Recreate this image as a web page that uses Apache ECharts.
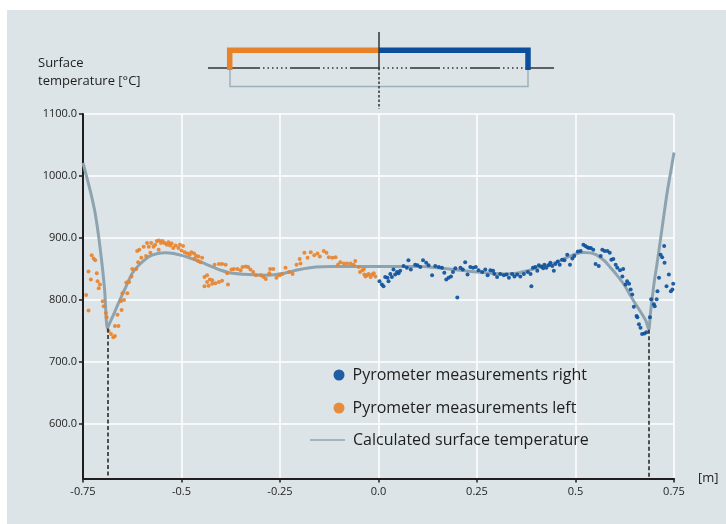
<!DOCTYPE html>
<html>
<head>
<meta charset="utf-8">
<script src="https://cdn.jsdelivr.net/npm/echarts@6/dist/echarts.min.js"></script>
<style>
html,body{margin:0;padding:0;background:#ffffff;}
#chart{width:726px;height:524px;}
</style>
</head>
<body>
<div id="chart"></div>
<script>
// ---- data ----
const yTickValues = [600, 700, 800, 900, 1000, 1100];
const yMin = 512, yMax = 1100;
const xMin = -0.75, xMax = 0.75, xStep = 0.25;

const calcCurve = [
  [-0.75,1021],[-0.74,997],[-0.73,972],[-0.72,943],[-0.71,901],[-0.70,848],[-0.695,815],[-0.688,754],
  [-0.68,766],[-0.67,780],[-0.66,795],[-0.65,809],[-0.642,820],[-0.635,830],[-0.625,843],[-0.61,855],
  [-0.60,861],[-0.583,870],[-0.56,875],[-0.54,876],[-0.52,875],[-0.50,872],[-0.48,868],[-0.45,861],
  [-0.42,853],[-0.40,848],[-0.37,843],[-0.33,841],[-0.28,840],[-0.24,843],[-0.20,849],[-0.16,853],
  [-0.12,854],[-0.06,854],[0,854],[0.05,854],[0.106,854],[0.15,852],[0.19,849],[0.25,845],
  [0.318,842],[0.35,843],[0.377,847],[0.41,853],[0.453,861],[0.48,869],[0.504,875],[0.52,876.5],
  [0.538,876],[0.552,873],[0.564,868],[0.577,861],[0.589,852],[0.605,840],[0.623,825],[0.636,811],
  [0.648,798],[0.66,786],[0.669,777],[0.679,766],[0.686,752],[0.69,778],[0.695,804],[0.70,830],
  [0.708,863],[0.716,899],[0.725,940],[0.733,975],[0.742,1008],[0.75,1038]
];

const dropLines = [[-0.688, 754], [0.686, 752]];

const orangeLeft = [
  [-0.742,808],[-0.736,783],[-0.736,846],[-0.73,833],[-0.728,872],[-0.723,867],[-0.719,864],[-0.715,843],
  [-0.713,830],[-0.71,819],[-0.707,825],[-0.70,798],[-0.6975,790],[-0.692,779],[-0.69,772],[-0.685,750],
  [-0.679,745],[-0.673,740],[-0.669,742],[-0.669,758],[-0.66,758],[-0.6625,776],[-0.652,784],[-0.654,798],
  [-0.646,800],[-0.65,811],[-0.6375,811],[-0.64,828],[-0.633,829],[-0.627,838],[-0.625,850],[-0.615,850],
  [-0.61,861],[-0.6125,879],[-0.607,881],[-0.602,868],[-0.596,886],[-0.59,871],[-0.5875,892],[-0.583,886],
  [-0.579,876],[-0.577,892],[-0.571,886],[-0.567,889],[-0.5625,895],[-0.557,896],[-0.552,892],[-0.558,881],
  [-0.548,895],[-0.543,892],[-0.5375,889],[-0.533,893],[-0.529,888],[-0.525,891],[-0.521,884],[-0.515,888],
  [-0.508,884],[-0.504,889],[-0.496,887],[-0.50,880],[-0.492,877],[-0.485,875],[-0.479,873],[-0.475,877],
  [-0.468,875],[-0.4625,871],[-0.457,870],[-0.467,867],[-0.458,863],[-0.452,861],
  [-0.4476,868],[-0.4416,837],[-0.435,840],[-0.428,833],[-0.435,829],[-0.422,832],[-0.4416,822],[-0.431,823],
  [-0.422,826],[-0.414,827],[-0.405,829],[-0.397,831],[-0.382,825],[-0.416,857],[-0.405,858],[-0.397,858],
  [-0.388,857],[-0.384,843],[-0.373,849],[-0.367,850],[-0.358,850],[-0.35,848],[-0.345,853],[-0.337,854],
  [-0.331,853],[-0.325,849],[-0.318,845],[-0.311,840],[-0.299,840],[-0.292,837],[-0.286,834],[-0.277,843],
  [-0.275,850],[-0.267,850],[-0.259,836],[-0.251,840],[-0.244,842],[-0.236,852],[-0.227,845],[-0.218,842],
  [-0.208,857],[-0.20,866],[-0.198,859],[-0.188,876],[-0.18,868],[-0.172,877],[-0.163,872],[-0.155,875],
  [-0.149,870],[-0.139,879],[-0.132,876],[-0.126,869],[-0.117,868],[-0.109,869],[-0.103,857],[-0.097,861],
  [-0.088,859],[-0.08,859],[-0.071,859],[-0.063,857],[-0.059,863],[-0.05,853],[-0.047,845],[-0.041,848],
  [-0.036,841],[-0.033,838],[-0.029,840],[-0.025,842],[-0.02,837],[-0.016,841],[-0.012,843],[-0.037,850],
  [-0.008,838]
];

const blueRight = [
  [0.0025,830],[0.0085,825],[0.0127,822],[0.017,837],[0.0229,836],[0.0254,830],[0.03,842],[0.034,837],
  [0.038,849],[0.0424,841],[0.047,845],[0.051,843],[0.055,847],[0.0636,855],[0.072,852],[0.076,864],
  [0.082,849],[0.093,857],[0.099,856],[0.106,853],[0.113,864],[0.121,860],[0.127,856],[0.136,840],
  [0.144,855],[0.153,853],[0.161,852],[0.167,844],[0.172,833],[0.178,836],[0.184,838],[0.189,845],
  [0.195,851],[0.20,804],[0.208,852],[0.214,849],[0.22,861],[0.226,841],[0.233,853],[0.24,852],
  [0.247,853],[0.254,848],[0.263,845],[0.271,849],[0.277,840],[0.284,848],[0.291,847],[0.294,842],
  [0.301,837],[0.309,842],[0.318,840],[0.325,841],[0.331,836],[0.339,842],[0.345,838],[0.352,841],
  [0.36,838],[0.369,842],[0.379,845],[0.386,842],[0.388,822],[0.392,852],[0.398,853],[0.403,847],
  [0.407,856],[0.413,854],[0.418,851],[0.421,857],[0.426,852],[0.432,856],[0.436,860],[0.441,855],
  [0.445,847],[0.449,858],[0.455,862],[0.46,857],[0.466,865],[0.472,864],[0.479,873],[0.486,857],
  [0.492,867],[0.497,871],[0.506,878],[0.513,879],[0.52,889],[0.525,887],[0.53,885],[0.534,884],
  [0.539,884],[0.545,881],[0.551,858],[0.559,855],[0.564,871],[0.568,881],[0.574,879],[0.581,879],
  [0.587,876],[0.591,865],[0.596,866],[0.602,857],[0.606,852],[0.613,848],[0.619,838],[0.621,850],
  [0.627,825],[0.631,830],[0.636,826],[0.64,817],[0.644,809],[0.648,789],[0.655,774],[0.657,772],
  [0.661,761],[0.665,755],[0.669,745],[0.675,746],[0.68,748],[0.689,772],[0.692,801],[0.699,793],
  [0.701,790],[0.706,801],[0.708,814],[0.712,836],[0.716,873],[0.72,869],[0.725,887],[0.726,860],
  [0.731,822],[0.737,841],[0.742,814],[0.746,817],[0.748,826]
];

const seriesNames = ['Pyrometer measurements right', 'Pyrometer measurements left', 'Calculated surface temperature'];

// ---- styles ----
const FONT = '"Open Sans", "DejaVu Sans", sans-serif';
const ORANGE = '#e8822a';
const BLUE = '#0b4f9c';
const CALC = '#8da3b0';
const INK = '#1e1e1e';
const PANEL = '#dde4e7';

const chart = echarts.init(document.getElementById('chart'), null, {renderer: 'canvas'});

const option = {
  backgroundColor: '#ffffff',
  animation: false,
  textStyle: {fontFamily: FONT},
  graphic: [
    {type: 'rect', z: -10, silent: true, shape: {x: 7, y: 10, width: 719, height: 514}, style: {fill: PANEL}},
    // header schematic
    {type: 'text', left: 38, top: 54, style: {text: 'Surface\ntemperature [°C]', fill: INK, font: '13px ' + FONT, lineHeight: 18}},
    {type: 'polyline', shape: {points: [[230,68],[230,86.5],[528,86.5],[528,68]]}, style: {stroke: '#9db1bd', lineWidth: 1.5, fill: null}},
    {type: 'line', shape: {x1: 208, y1: 68, x2: 230, y2: 68}, style: {stroke: '#333', lineWidth: 1.5}},
    {type: 'line', shape: {x1: 527, y1: 68, x2: 554, y2: 68}, style: {stroke: '#333', lineWidth: 1.5}},
    {type: 'line', shape: {x1: 230, y1: 68, x2: 527, y2: 68}, style: {stroke: '#333', lineWidth: 1.5, lineDash: [30,3,1.5,3,1.5,3,1.5,3,1.5,3,1.5,3,1.5,3]}},
    {type: 'polyline', shape: {points: [[229.7,70],[229.7,50.3],[379,50.3]]}, style: {stroke: ORANGE, lineWidth: 5.5, fill: null, lineJoin: 'miter'}},
    {type: 'polyline', shape: {points: [[379,50.3],[528,50.3],[528,70]]}, style: {stroke: BLUE, lineWidth: 5.5, fill: null, lineJoin: 'miter'}},
    {type: 'line', shape: {x1: 379, y1: 32, x2: 379, y2: 68}, style: {stroke: '#333', lineWidth: 1.5}},
    {type: 'line', shape: {x1: 379, y1: 68, x2: 379, y2: 109}, style: {stroke: '#333', lineWidth: 1.5, lineDash: [2.5,2]}}
  ],
  grid: {left: 83, right: 52, top: 114, bottom: 45.5, containLabel: false},
  legend: [
    {
      data: [{name: seriesNames[0], icon: 'circle'}, {name: seriesNames[1], icon: 'circle'}],
      orient: 'vertical', left: 333.5, top: 367, padding: 0, itemWidth: 11, itemHeight: 11, itemGap: 17,
      selectedMode: false,
      textStyle: {color: INK, fontSize: 16, fontFamily: FONT, padding: [0,0,0,3]}
    },
    {
      data: [{name: seriesNames[2], icon: 'rect'}],
      orient: 'vertical', left: 310, top: 432, padding: 0, itemWidth: 35, itemHeight: 1.5,
      selectedMode: false,
      itemStyle: {color: CALC},
      textStyle: {color: INK, fontSize: 16, fontFamily: FONT, padding: [0,0,0,3]}
    }
  ],
  xAxis: {
    type: 'value', min: xMin, max: xMax, interval: xStep,
    name: '[m]', nameLocation: 'end', nameGap: 24,
    nameTextStyle: {color: INK, fontSize: 13, fontFamily: FONT, verticalAlign: 'middle'},
    axisLine: {show: true, onZero: false, lineStyle: {color: INK, width: 2}},
    axisTick: {show: true, length: 4, lineStyle: {color: INK, width: 1.5}},
    axisLabel: {color: INK, fontSize: 11, fontFamily: FONT, margin: 8,
      formatter: v => (Math.abs(v) < 1e-9 ? '0.0' : String(+v.toFixed(2)))},
    splitLine: {show: true, lineStyle: {color: '#ffffff', width: 1.5}}
  },
  yAxis: {
    type: 'value', min: yMin, max: yMax,
    axisLine: {show: true, onZero: false, lineStyle: {color: INK, width: 2}},
    axisTick: {show: true, length: 4, customValues: yTickValues, lineStyle: {color: INK, width: 1.5}},
    axisLabel: {color: INK, fontSize: 11, fontFamily: FONT, margin: 6, customValues: yTickValues,
      formatter: v => v.toFixed(1)},
    splitLine: {show: true, customValues: yTickValues, lineStyle: {color: '#ffffff', width: 1.5}}
  },
  series: [
    {
      name: seriesNames[0], type: 'scatter', data: blueRight, symbolSize: 4, z: 3,
      itemStyle: {color: BLUE, opacity: 0.9}
    },
    {
      name: seriesNames[1], type: 'scatter', data: orangeLeft, symbolSize: 4, z: 3,
      itemStyle: {color: ORANGE, opacity: 0.9}
    },
    {
      name: seriesNames[2], type: 'line', data: calcCurve, smooth: 0.25, symbol: 'none', z: 2,
      lineStyle: {color: CALC, width: 3},
      itemStyle: {color: CALC},
      markLine: {
        silent: true, symbol: 'none', label: {show: false},
        lineStyle: {color: INK, width: 1.5, type: [4, 2.5]},
        data: dropLines.map(p => [{coord: [p[0], p[1]]}, {coord: [p[0], yMin]}])
      }
    }
  ]
};

chart.setOption(option);
</script>
</body>
</html>
